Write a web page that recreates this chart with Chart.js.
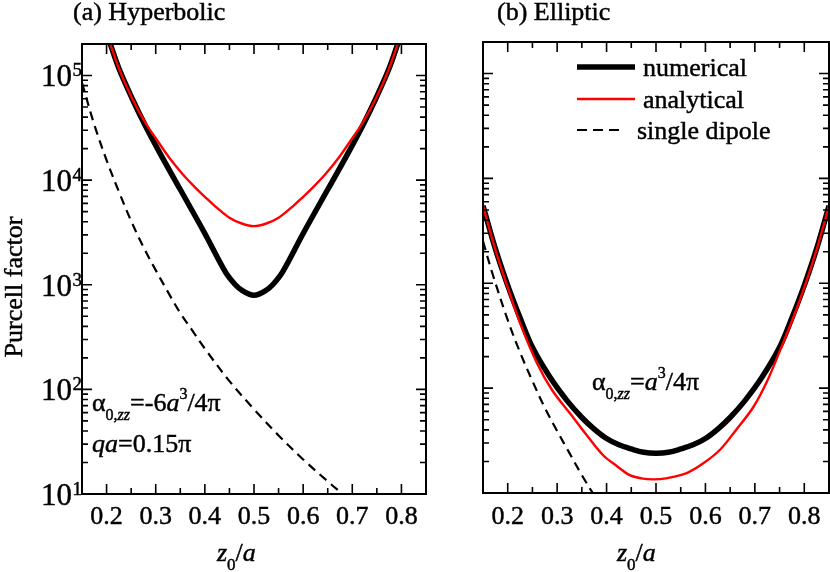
<!DOCTYPE html>
<html>
<head>
<meta charset="utf-8">
<script src="https://cdn.jsdelivr.net/npm/chart.js@4.4.0/dist/chart.umd.min.js"></script>
<style>
  body { margin: 0; background: #fff; }
  #wrap { position: relative; width: 830px; height: 572px; }
  canvas { position: absolute; top: 0; }
  .preload { position: absolute; left: -999px; top: 0; font-family: "Liberation Serif"; font-size: 26px; }
</style>
</head>
<body>
<div id="wrap">
  <canvas id="chartA" width="440" height="572" style="left:0px"></canvas>
  <canvas id="chartB" width="390" height="572" style="left:440px"></canvas>
</div>
<span class="preload">Purcell <i>z a</i> απ 0123</span>
<script>
// (a) Hyperbolic
const zNumA = [0.204, 0.225, 0.252, 0.28, 0.313, 0.35, 0.40, 0.442, 0.462, 0.476, 0.49, 0.5, 0.51, 0.524, 0.538, 0.558, 0.60, 0.65, 0.687, 0.72, 0.748, 0.775, 0.796];
const numA = [224000, 117000, 60300, 32400, 16600, 8130, 3090, 1320, 1000, 880, 813, 794, 813, 880, 1000, 1320, 3090, 8130, 16600, 32400, 60300, 117000, 224000];
const zAnaA = [0.204, 0.225, 0.252, 0.28, 0.306, 0.33, 0.354, 0.38, 0.40, 0.421, 0.45, 0.475, 0.5, 0.525, 0.55, 0.579, 0.6, 0.62, 0.646, 0.67, 0.694, 0.72, 0.748, 0.775, 0.796];
const anaA = [224000, 117000, 60300, 34700, 22900, 15800, 11500, 8510, 6920, 5620, 4370, 3850, 3630, 3850, 4370, 5620, 6920, 8510, 11500, 15800, 22900, 34700, 60300, 117000, 224000];
const zDipA = [0.15, 0.175, 0.2, 0.225, 0.25, 0.275, 0.3, 0.325, 0.35, 0.375, 0.4, 0.45, 0.5, 0.55, 0.6, 0.65, 0.675, 0.7];
const dipA = [85100, 33900, 15500, 7760, 4070, 2290, 1380, 851, 537, 363, 245, 120, 64.6, 36.3, 21.4, 13.2, 10.5, 8.5];

// (b) Elliptic
const zNumB = [0.15, 0.175, 0.2, 0.225, 0.25, 0.286, 0.32, 0.35, 0.375, 0.40, 0.425, 0.45, 0.475, 0.5, 0.525, 0.55, 0.575, 0.60, 0.625, 0.65, 0.68, 0.714, 0.75, 0.775, 0.8, 0.825, 0.85];
const numB = [5500, 2140, 955, 468, 245, 126, 76, 52.5, 40.7, 33.1, 28.8, 26.3, 24.5, 24, 24.5, 26.3, 28.8, 33.1, 40.7, 52.5, 76, 126, 245, 468, 955, 2140, 5500];
const zAnaB = [0.15, 0.175, 0.2, 0.225, 0.259, 0.29, 0.326, 0.36, 0.393, 0.42, 0.447, 0.47, 0.495, 0.52, 0.562, 0.595, 0.629, 0.66, 0.697, 0.725, 0.751, 0.78, 0.8, 0.825, 0.85];
const anaB = [5500, 2090, 912, 417, 174, 95.5, 57.5, 35.5, 22.9, 18.2, 14.8, 13.8, 13.5, 13.8, 15.5, 19.1, 25.7, 38.9, 66.1, 117, 229, 501, 912, 2090, 5500];
const zDipB = [0.15, 0.17, 0.2, 0.225, 0.25, 0.275, 0.3, 0.325, 0.35, 0.375, 0.39];
const dipB = [2510, 1200, 447, 219, 117, 65, 39, 24, 14.8, 9.5, 7.5];

// ticks
const xMajor = [0.2, 0.3, 0.4, 0.5, 0.6, 0.7, 0.8];
const xLabels = ['0.2', '0.3', '0.4', '0.5', '0.6', '0.7', '0.8'];
const xMinor = [0.25, 0.35, 0.45, 0.55, 0.65, 0.75];
const yMajor = [10, 100, 1000, 10000, 100000];
const yExp = ['1', '2', '3', '4', '5'];
const yMin = 10, yMax = 200000;

const SERIF = '"Liberation Serif", "Times New Roman", Times, "DejaVu Serif", serif';
function font(size, italic) { return (italic ? 'italic ' : '') + size + 'px ' + SERIF; }

// fill with a hairline stroke so the text is as dark as the scan
function txt(ctx, s, x, y) {
  ctx.fillText(s, x, y);
  ctx.lineWidth = 0.45;
  ctx.strokeText(s, x, y);
}

function drawRich(ctx, x, y, parts) {
  ctx.textAlign = 'left';
  ctx.textBaseline = 'alphabetic';
  parts.forEach(p => {
    ctx.font = font(p[1], p[2]);
    txt(ctx, p[0], x, y + (p[3] || 0));
    x += ctx.measureText(p[0]).width;
  });
}

function pts(xs, ys) {
  return xs.map((x, i) => ({ x: x, y: ys[i] }));
}

// frame, inward ticks and all text
function decoPlugin(offsetX, titleX, drawExtra) {
  return {
    id: 'deco',
    afterDatasetsDraw(chart) {
      const ctx = chart.ctx, a = chart.chartArea;
      const xs = chart.scales.x, ys = chart.scales.y;
      ctx.save();
      ctx.strokeStyle = '#000';
      ctx.fillStyle = '#000';
      ctx.lineWidth = 2;
      ctx.strokeRect(a.left, a.top, a.right - a.left, a.bottom - a.top);

      ctx.lineWidth = 1.6;
      ctx.beginPath();
      xMajor.forEach(v => {
        const p = xs.getPixelForValue(v);
        ctx.moveTo(p, a.bottom); ctx.lineTo(p, a.bottom - 10);
        ctx.moveTo(p, a.top); ctx.lineTo(p, a.top + 10);
      });
      xMinor.forEach(v => {
        const p = xs.getPixelForValue(v);
        ctx.moveTo(p, a.bottom); ctx.lineTo(p, a.bottom - 6);
        ctx.moveTo(p, a.top); ctx.lineTo(p, a.top + 6);
      });
      yMajor.forEach(m => {
        const p = ys.getPixelForValue(m);
        if (m > yMin) {
          ctx.moveTo(a.left, p); ctx.lineTo(a.left + 10, p);
          ctx.moveTo(a.right, p); ctx.lineTo(a.right - 10, p);
        }
        for (let k = 2; k <= 9; k++) {
          const v = k * m;
          if (v >= yMax) break;
          const q = ys.getPixelForValue(v);
          ctx.moveTo(a.left, q); ctx.lineTo(a.left + 6, q);
          ctx.moveTo(a.right, q); ctx.lineTo(a.right - 6, q);
        }
      });
      ctx.stroke();

      // x tick labels
      ctx.font = font(26);
      ctx.textAlign = 'center';
      ctx.textBaseline = 'alphabetic';
      xMajor.forEach((v, i) => {
        txt(ctx, xLabels[i], xs.getPixelForValue(v), 524);
      });

      ctx.translate(-offsetX, 0);
      // x title z0/a
      drawRich(ctx, titleX, 561, [
        ['z', 26, true], ['0', 17, false, 9], ['/', 26, false], ['a', 26, true]
      ]);
      drawExtra(ctx, chart);
      ctx.restore();
    }
  };
}

function makeChart(id, sets, pad, offsetX, titleX, drawExtra) {
  return new Chart(document.getElementById(id), {
    type: 'line',
    data: { datasets: sets },
    options: {
      responsive: false,
      animation: false,
      events: [],
      layout: { padding: pad },
      plugins: { legend: { display: false }, tooltip: { enabled: false } },
      elements: { point: { radius: 0 }, line: { tension: 0.35 } },
      scales: {
        x: { type: 'linear', min: 0.15, max: 0.85, display: false },
        y: { type: 'logarithmic', min: yMin, max: yMax, display: false }
      }
    },
    plugins: [decoPlugin(offsetX, titleX, drawExtra)]
  });
}

function series(zn, n, za, an, zd, d) {
  return [
    { data: pts(za, an), borderColor: '#ff0000', borderWidth: 2.4 },
    { data: pts(zn, n), borderColor: '#000000', borderWidth: 5.5 },
    { data: pts(zd, d), borderColor: '#000000', borderWidth: 2.2, borderDash: [9, 6] }
  ];
}

function build() {
  makeChart('chartA', series(zNumA, numA, zAnaA, anaA, zDipA, dipA),
    { left: 82, right: 14, top: 44, bottom: 78 }, 0, 217, function (ctx, chart) {
      const ys = chart.scales.y;
      // y tick labels 10^n
      yMajor.forEach((m, i) => {
        const p = ys.getPixelForValue(m);
        ctx.font = font(31);
        ctx.textAlign = 'right';
        txt(ctx, '10', 72, p + 11);
        ctx.font = font(19);
        ctx.textAlign = 'left';
        txt(ctx, yExp[i], 72.5, p + 1);
      });
      // y title
      ctx.save();
      ctx.translate(22, 287);
      ctx.rotate(-Math.PI / 2);
      ctx.font = font(26);
      ctx.textAlign = 'center';
      txt(ctx, 'Purcell factor', 0, 0);
      ctx.restore();
      // panel title
      drawRich(ctx, 73, 20, [['(a) Hyperbolic', 26, false]]);
      // annotations
      drawRich(ctx, 92, 411, [
        ['α', 26, false], ['0,', 16, false, 9], ['zz', 16, true, 9], ['=-6', 26, false],
        ['a', 26, true], ['3', 16, false, -12], ['/4π', 26, false]
      ]);
      drawRich(ctx, 92, 452, [['qa', 26, true], ['=0.15π', 26, false]]);
    });

  makeChart('chartB', series(zNumB, numB, zAnaB, anaB, zDipB, dipB),
    { left: 43, right: 1, top: 42, bottom: 79 }, 440, 617, function (ctx) {
      drawRich(ctx, 497, 20, [['(b) Elliptic', 26, false]]);
      // legend
      ctx.strokeStyle = '#000';
      ctx.lineWidth = 5.5;
      ctx.beginPath(); ctx.moveTo(577, 67); ctx.lineTo(635, 67); ctx.stroke();
      ctx.strokeStyle = '#ff0000';
      ctx.lineWidth = 2.4;
      ctx.beginPath(); ctx.moveTo(577, 99); ctx.lineTo(635, 99); ctx.stroke();
      ctx.strokeStyle = '#000';
      ctx.lineWidth = 2.2;
      ctx.setLineDash([10, 6]);
      ctx.beginPath(); ctx.moveTo(577, 130); ctx.lineTo(625, 130); ctx.stroke();
      ctx.setLineDash([]);
      drawRich(ctx, 643, 76, [['numerical', 26, false]]);
      drawRich(ctx, 643, 108, [['analytical', 26, false]]);
      drawRich(ctx, 637, 139, [['single dipole', 26, false]]);
      // annotation
      drawRich(ctx, 592, 390, [
        ['α', 26, false], ['0,', 16, false, 9], ['zz', 16, true, 9], ['=', 26, false],
        ['a', 26, true], ['3', 16, false, -12], ['/4π', 26, false]
      ]);
    });
}

Promise.all([
  document.fonts.load('26px "Liberation Serif"'),
  document.fonts.load('italic 26px "Liberation Serif"')
]).then(build, build);
</script>
</body>
</html>
